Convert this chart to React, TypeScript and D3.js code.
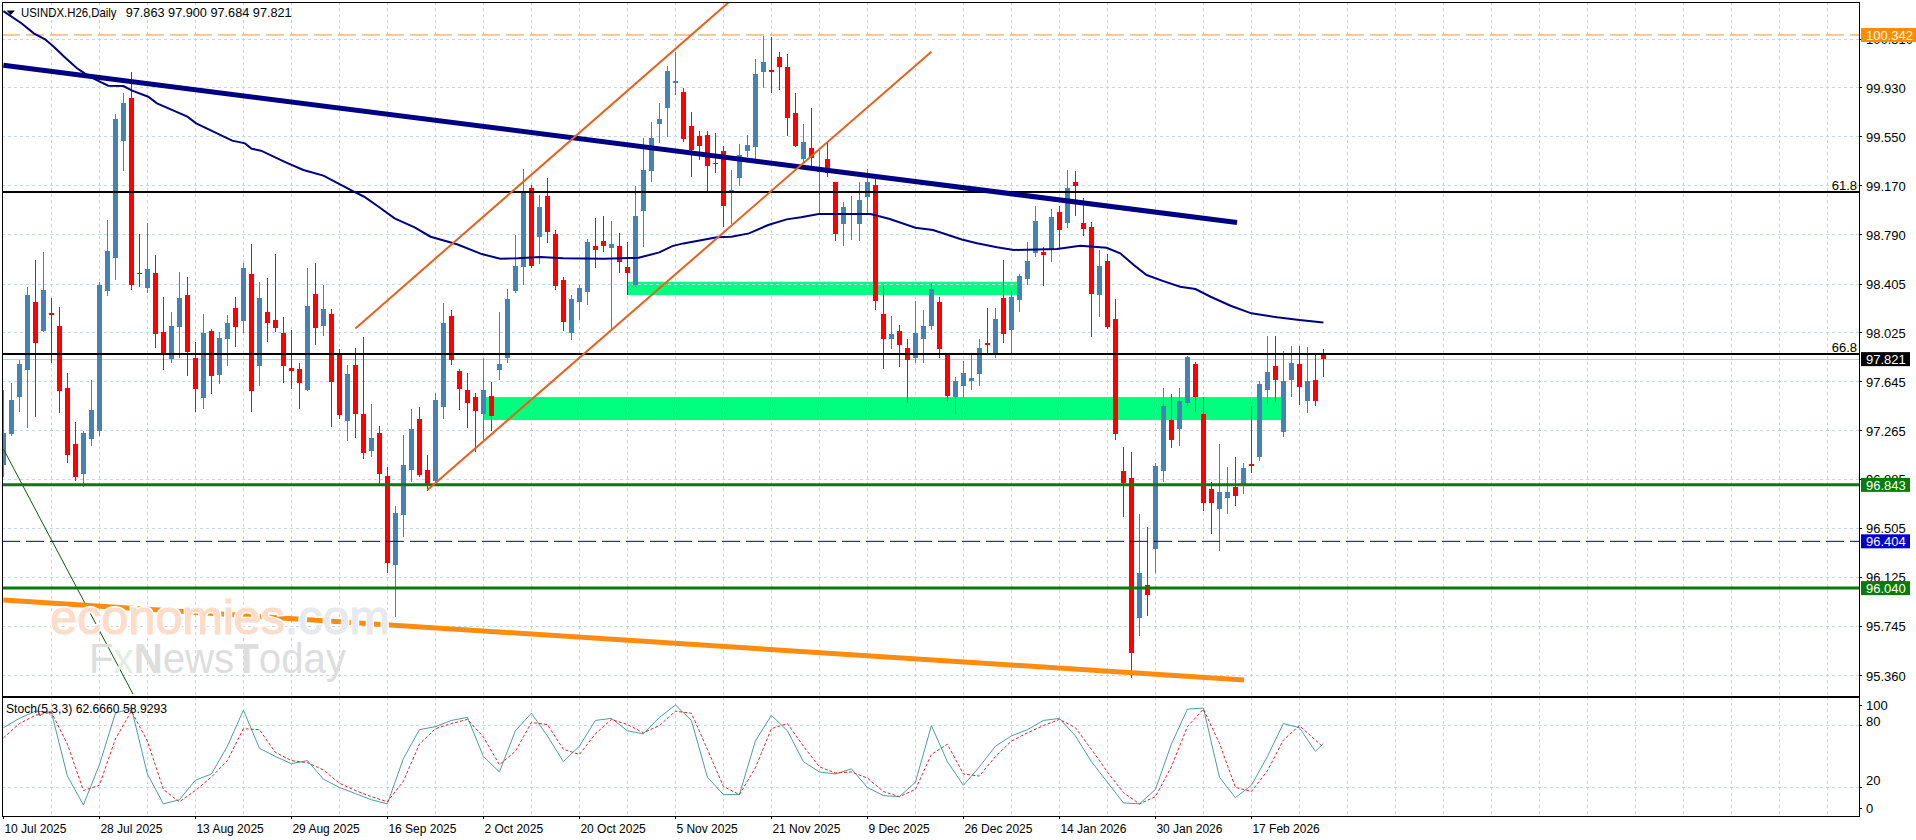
import * as React from "react";
import * as d3 from "d3";

const FONT = "'Liberation Sans', Arial, sans-serif";

const opens = [
  96.997,97.238,97.528,97.736,98.267,98.040,98.177,98.078,97.596,97.161,
  96.927,97.202,97.264,98.353,98.610,99.517,99.852,98.493,98.372,98.488,
  98.034,97.824,98.073,98.320,97.827,97.521,98.040,97.697,97.977,98.216,
  98.120,98.483,97.770,98.185,98.125,98.022,97.749,97.742,97.581,98.327,
  98.078,98.172,97.861,97.342,97.775,97.394,97.109,97.249,96.912,96.219,
  96.608,96.958,97.355,96.958,96.873,97.451,98.156,97.731,97.581,97.528,
  97.392,97.534,97.736,97.832,98.353,98.540,99.149,98.768,99.089,98.794,
  98.436,98.026,98.267,98.345,98.701,98.740,98.683,98.701,98.535,98.397,
  98.975,99.284,99.650,99.776,99.979,99.896,99.634,99.556,99.564,99.349,
  99.437,99.128,99.232,99.442,99.473,100.056,100.067,100.171,100.093,99.733,
  99.377,99.461,99.276,99.377,99.196,98.872,98.950,98.872,99.084,99.175,
  98.172,97.977,98.040,97.905,97.832,97.977,98.078,98.265,97.858,97.528,
  97.612,97.653,97.705,97.944,97.866,98.294,98.047,98.281,98.446,98.648,
  98.652,98.670,98.965,98.882,99.198,98.877,98.846,98.322,98.584,98.130,
  96.951,96.896,95.805,96.064,96.344,96.953,97.347,97.277,97.477,97.783,
  97.394,96.811,96.657,96.743,96.829,96.842,97.003,97.062,97.581,97.767,
  97.254,97.658,97.783,97.495,97.658,97.863,
];
const highs = [
  97.581,97.633,97.814,98.384,98.592,98.652,98.294,98.229,97.715,97.329,
  97.264,97.658,98.421,98.903,99.725,99.893,100.056,98.794,98.877,98.631,
  98.302,98.185,98.501,98.462,97.956,98.169,98.053,98.034,98.164,98.302,
  98.566,98.714,98.423,98.449,98.636,98.146,98.047,97.793,98.532,98.571,
  98.397,98.208,97.897,97.775,97.905,97.991,97.472,97.301,96.984,96.678,
  97.231,97.430,97.451,97.075,97.555,98.260,98.203,97.742,97.710,97.555,
  97.827,97.645,98.190,98.364,98.786,99.297,99.175,99.097,99.227,98.825,
  98.457,98.320,98.397,98.755,98.916,98.934,98.897,98.799,98.729,99.167,
  99.538,99.663,99.811,100.101,100.212,99.927,99.741,99.595,99.597,99.577,
  99.478,99.292,99.494,99.564,100.153,100.334,100.324,100.212,100.192,99.888,
  99.650,99.772,99.463,99.499,99.201,99.041,99.092,99.196,99.300,99.258,
  98.390,98.156,98.086,97.977,98.273,98.203,98.415,98.302,97.865,97.679,
  97.806,97.861,97.975,98.221,98.221,98.592,98.358,98.480,98.734,99.012,
  98.693,98.986,99.012,99.292,99.284,99.072,98.885,98.670,98.636,98.286,
  97.135,97.101,96.616,96.517,97.010,97.594,97.550,97.594,97.845,97.801,
  97.524,96.863,97.161,96.979,97.057,97.010,97.456,97.651,98.001,98.001,
  97.884,97.923,97.923,97.915,97.861,97.900,
];
const lows = [
  96.906,97.223,97.412,97.283,97.373,98.034,97.788,97.399,97.015,96.875,
  96.824,97.147,97.225,98.314,98.436,99.284,98.358,98.382,98.337,97.905,
  97.736,97.788,97.827,97.689,97.412,97.430,97.550,97.627,97.767,97.917,
  98.026,97.412,97.612,97.956,98.029,97.637,97.588,97.433,97.575,97.931,
  98.001,97.295,97.353,97.184,97.210,97.044,97.062,96.849,96.157,95.817,
  96.435,96.867,96.906,96.797,96.867,97.353,97.775,97.425,97.287,97.101,
  97.192,97.262,97.658,97.793,98.333,98.397,98.530,98.561,98.722,98.358,
  98.040,97.969,98.125,98.242,98.532,98.654,98.047,98.488,98.320,98.384,
  98.695,99.201,99.504,99.551,99.875,99.512,99.240,99.370,99.123,99.271,
  98.851,98.872,99.167,99.393,99.375,99.930,99.893,99.914,99.556,99.468,
  99.354,99.323,98.950,99.240,98.742,98.703,98.747,98.742,98.950,98.203,
  97.744,97.900,97.762,97.477,97.793,97.793,98.047,97.827,97.497,97.386,
  97.516,97.581,97.614,97.853,97.832,97.949,97.861,98.190,98.397,98.617,
  98.392,98.574,98.683,98.843,98.934,98.778,97.995,98.151,98.055,97.192,
  96.595,95.343,95.670,95.825,96.155,96.867,97.132,97.147,97.459,97.410,
  96.642,96.461,96.331,96.616,96.681,96.772,96.937,97.028,97.472,97.485,
  97.215,97.526,97.464,97.402,97.456,97.684,
];
const closes = [
  97.244,97.503,97.783,98.320,97.949,98.358,98.172,97.575,97.075,96.906,
  97.244,97.425,98.397,98.662,99.688,99.815,98.397,98.487,98.519,98.016,
  97.866,98.078,98.294,97.878,97.588,98.026,97.689,97.983,98.099,98.073,
  98.527,97.575,98.294,98.104,98.061,97.770,97.731,97.637,98.234,98.065,
  98.208,97.645,97.386,97.705,97.394,97.093,97.210,96.927,96.237,96.622,
  96.997,97.277,96.919,96.849,97.503,98.099,97.814,97.588,97.482,97.420,
  97.581,97.378,97.783,98.288,98.545,99.123,98.547,99.006,98.812,98.390,
  98.112,98.288,98.372,98.729,98.670,98.701,98.714,98.579,98.493,98.934,
  99.292,99.538,99.688,100.062,99.984,99.533,99.447,99.478,99.325,99.342,
  99.014,99.136,99.408,99.484,100.038,100.132,100.062,100.095,99.699,99.478,
  99.507,99.385,99.292,99.266,98.794,99.004,98.957,99.059,99.201,98.275,
  97.977,98.016,97.931,97.814,98.026,98.078,98.366,97.900,97.534,97.651,
  97.710,97.672,97.905,97.933,98.133,98.016,98.304,98.467,98.584,98.895,
  98.631,98.924,98.825,99.149,99.170,98.833,98.330,98.545,98.068,97.238,
  96.855,95.533,96.155,95.986,96.989,97.456,97.192,97.495,97.835,97.528,
  96.704,96.704,96.785,96.785,96.758,96.972,96.997,97.627,97.718,97.658,
  97.651,97.791,97.604,97.651,97.495,97.821,
];

// moving average, read at the bends of the line
const maBars = [0,2.25,3.8,5.2,6.3,7.6,9.2,10.3,11.6,13.1,15,16.1,18.1,19.2,23,24.1,28.6,30.2,31,32.2,35.3,37.5,40,43.8,45.1,46.9,48.9,51.4,53.4,56.7,59.8,62.1,64.3,67.1,70,75.1,79.4,82,83.6,85,89.2,91,93.2,95.6,97.9,99.7,101.9,108.4,110.8,114,116.2,119.8,121.7,124.2,126.3,131.7,134.6,137.9,139.6,141.3,142.9,145,147.1,149,150.9,153.4,156,159.2,162,165];
const maValues = [100.528,100.433,100.355,100.308,100.251,100.173,100.083,100.038,99.992,99.948,99.945,99.909,99.862,99.810,99.707,99.655,99.520,99.499,99.458,99.442,99.351,99.292,99.248,99.123,99.084,99.006,98.916,98.846,98.773,98.714,98.638,98.602,98.605,98.615,98.605,98.602,98.610,98.651,98.700,98.721,98.768,98.773,98.799,98.864,98.908,98.924,98.950,98.950,98.911,98.843,98.825,98.752,98.722,98.691,98.670,98.677,98.703,98.687,98.644,98.553,98.475,98.428,98.384,98.366,98.306,98.236,98.177,98.146,98.125,98.105];

const stochBars = d3.range(0, 166, 2).concat(165);
const stochK = [78,87,94,93,31,3,42,92,97,33,4,8,27,33,60,95,58,50,43,46,28,20,14,8,4,48,76,79,85,88,50,35,75,92,70,45,60,85,87,75,72,88,100,85,30,13,13,65,90,75,45,35,33,38,20,12,11,25,80,45,22,40,60,70,76,85,87,70,45,25,5,4,18,62,96,97,30,10,22,50,82,78,55,62.666];
const stochD = [68,82,90,93,62,17,22,67,94,65,18,6,17,30,46,77,76,54,46,44,37,24,17,11,6,26,62,77,82,86,69,42,55,83,81,57,52,72,86,81,73,80,94,92,57,21,13,39,77,82,60,40,34,35,29,16,11,18,52,62,33,31,50,65,73,80,86,78,57,35,15,4,11,40,79,96,63,20,16,36,66,80,66,58.929];

const priceTicks = [100.31,99.93,99.55,99.17,98.79,98.405,98.025,97.645,97.265,96.885,96.505,96.125,95.745,95.36];
const dateLabels = ["10 Jul 2025","28 Jul 2025","13 Aug 2025","29 Aug 2025","16 Sep 2025","2 Oct 2025","20 Oct 2025","5 Nov 2025","21 Nov 2025","9 Dec 2025","26 Dec 2025","14 Jan 2026","30 Jan 2026","17 Feb 2026"];
const stochTicks = [100,80,20,0];

const navyTrend = [[0,100.107],[154.2,98.883]];
const channelLower = [[53,96.803],[116,100.212]];
const channelUpper = [[44,98.06],[90.6,100.593]];
const orangeTrend = [[0,95.947],[155.1,95.325]];
const thinGreen = [[0,97.122],[16.2,95.216]];
const zones = [[60,160,97.526,97.347],[78,127,98.423,98.32]];

const fibLevels = [[99.12,"61.8"],[97.861,"66.8"]];
const boxes = [
  [100.342,"100.342","#FF8C00",55],
  [97.821,"97.821","#000000",49],
  [96.843,"96.843","#0A7A0A",49],
  [96.404,"96.404","#0000CD",49],
  [96.04,"96.040","#0A7A0A",49],
];

const W = 1916, H = 840;
const LEFT = 2, RIGHT = 1859, TOP = 2, MAIN_BOTTOM = 696, SUB_TOP = 697, SUB_BOTTOM = 816;
const GRID = "#C2D8E2";

const x = d3.scaleLinear().domain([0, 165]).range([3.4, 1323.4]);
const y = d3.scaleLinear().domain([95.201, 100.614]).range([696, 0]);
const yStoch = d3.scaleLinear().domain([0, 100]).range([808, 705]);

const trend = d3.line<number[]>().x(d => x(d[0])).y(d => y(d[1]));
const maLine = d3.line<number>().x((_, i) => x(maBars[i])).y(d => y(d));
const stochLine = d3.line<number>().x((_, i) => x(stochBars[i])).y(d => yStoch(d));

const App = () => {
  const gridBars = d3.range(6, 232, 6);

  return (
    <svg width={W} height={H} style={{ position: "absolute", left: 0, top: 0, background: "#fff" }} fontFamily={FONT} fontSize={13}>
      <defs>
        <clipPath id="main"><rect x={LEFT} y={TOP} width={RIGHT - LEFT} height={MAIN_BOTTOM - TOP} /></clipPath>
        <clipPath id="sub"><rect x={LEFT} y={SUB_TOP} width={RIGHT - LEFT} height={SUB_BOTTOM - SUB_TOP} /></clipPath>
      </defs>

      <g clipPath="url(#main)">
        {zones.map((z, i) => (
          <rect key={i} x={x(z[0])} y={y(z[2])} width={x(z[1]) - x(z[0])} height={y(z[3]) - y(z[2])} fill="#00FF7F" />
        ))}
        <g stroke={GRID} strokeDasharray="3 3" shapeRendering="crispEdges">
          {priceTicks.map(t => <line key={t} x1={LEFT} x2={RIGHT} y1={y(t)} y2={y(t)} />)}
          {gridBars.map(b => <line key={b} x1={x(b)} x2={x(b)} y1={TOP} y2={MAIN_BOTTOM} />)}
        </g>
        <line x1={LEFT} x2={RIGHT} y1={y(97.821)} y2={y(97.821)} stroke="#B4D4E0" shapeRendering="crispEdges" />

        <g shapeRendering="crispEdges">
          {opens.map((o, i) => {
            const c = closes[i];
            const color = c >= o ? "#4682B4" : "#FF0000";
            const cx = Math.round(x(i));
            const top = y(Math.max(o, c));
            const h = Math.max(1.5, y(Math.min(o, c)) - top);
            return (
              <g key={i}>
                <line x1={cx + 0.5} x2={cx + 0.5} y1={y(highs[i])} y2={y(lows[i])} stroke={color} />
                <rect x={cx - 2} y={top} width={5} height={h} fill={color} />
              </g>
            );
          })}
        </g>

        <path d={trend(thinGreen) || ""} fill="none" stroke="#0B5A0B" />
        <path d={trend(orangeTrend) || ""} fill="none" stroke="#FF8C10" strokeWidth={5} />

        <text x={50} y={634} fontSize={48} textLength={340} lengthAdjust="spacingAndGlyphs" stroke="#fff" strokeWidth={4}>economies.com</text>
        <text x={50} y={634} fontSize={48} textLength={340} lengthAdjust="spacingAndGlyphs" strokeWidth={1.2}>
          <tspan fill="#FFDCC8" stroke="#FFDCC8">economies</tspan><tspan fill="#E6E9EE" stroke="#E6E9EE">.com</tspan>
        </text>
        <text x={89} y={673} fontSize={43} textLength={257} lengthAdjust="spacingAndGlyphs" fill="#DEDEDE">
          F<tspan fill="#E4EDE4">x</tspan><tspan fontWeight="bold">N</tspan>ews<tspan fontWeight="bold">T</tspan>oday
        </text>

        <line x1={LEFT} x2={RIGHT} y1={y(100.342)} y2={y(100.342)} stroke="#E8912E" strokeDasharray="18 6" />
        {fibLevels.map(l => (
          <line key={l[1]} x1={LEFT} x2={RIGHT} y1={y(l[0] as number)} y2={y(l[0] as number)} stroke="#000" strokeWidth={2} />
        ))}
        <line x1={LEFT} x2={RIGHT} y1={y(96.843)} y2={y(96.843)} stroke="#0A7A0A" strokeWidth={3} />
        <line x1={LEFT} x2={RIGHT} y1={y(96.04)} y2={y(96.04)} stroke="#0A7A0A" strokeWidth={3} />
        <line x1={LEFT} x2={RIGHT} y1={y(96.404)} y2={y(96.404)} stroke="#00008B" strokeDasharray="18 6" />

        <path d={maLine(maValues) || ""} fill="none" stroke="#000080" strokeWidth={2} />
        <path d={trend(navyTrend) || ""} fill="none" stroke="#000080" strokeWidth={5} />
        <path d={trend(channelLower) || ""} fill="none" stroke="#E8601C" strokeWidth={2} />
        <path d={trend(channelUpper) || ""} fill="none" stroke="#E8601C" strokeWidth={2} />

        {fibLevels.map(l => (
          <text key={l[1]} x={RIGHT - 2} y={y(l[0] as number) - 2} textAnchor="end" fill="#000">{l[1]}</text>
        ))}
      </g>

      <g clipPath="url(#sub)">
        <g stroke={GRID} strokeDasharray="3 3" shapeRendering="crispEdges">
          <line x1={LEFT} x2={RIGHT} y1={yStoch(80)} y2={yStoch(80)} />
          <line x1={LEFT} x2={RIGHT} y1={yStoch(20)} y2={yStoch(20)} />
          {gridBars.map(b => <line key={b} x1={x(b)} x2={x(b)} y1={SUB_TOP} y2={SUB_BOTTOM} />)}
        </g>
        <path d={stochLine(stochK) || ""} fill="none" stroke="#4F9C9C" />
        <path d={stochLine(stochD) || ""} fill="none" stroke="#D8262C" strokeDasharray="3 2" />
      </g>

      <g fill="none" stroke="#000" shapeRendering="crispEdges">
        <rect x={LEFT} y={TOP} width={RIGHT - LEFT} height={MAIN_BOTTOM - TOP} />
        <rect x={LEFT} y={SUB_TOP} width={RIGHT - LEFT} height={SUB_BOTTOM - SUB_TOP} />
      </g>

      <path d="M6.5 10.5 H15 L10.7 15 Z" fill="#000" />
      <text x={21} y={17} fill="#000" textLength={95.5} lengthAdjust="spacingAndGlyphs">USINDX.H26,Daily</text>
      <text x={125.7} y={17} fill="#000" textLength={166} lengthAdjust="spacingAndGlyphs">97.863 97.900 97.684 97.821</text>
      <text x={6} y={713} fill="#000" textLength={161} lengthAdjust="spacingAndGlyphs">Stoch(5,3,3) 62.6660 58.9293</text>

      {priceTicks.map(t => (
        <g key={t}>
          <line x1={RIGHT} x2={RIGHT + 3} y1={y(t)} y2={y(t)} stroke="#000" shapeRendering="crispEdges" />
          <text x={1866} y={y(t) + 5} fill="#000">{d3.format(".3f")(t)}</text>
        </g>
      ))}
      {boxes.map(b => (
        <g key={b[1] as string}>
          <rect x={1861} y={y(b[0] as number) - 7} width={b[3] as number} height={14} fill={b[2] as string} />
          <text x={1866} y={y(b[0] as number) + 5} fill="#fff">{b[1]}</text>
        </g>
      ))}

      {stochTicks.map(t => (
        <g key={t}>
          <line x1={RIGHT} x2={RIGHT + 3} y1={yStoch(t)} y2={yStoch(t)} stroke="#000" shapeRendering="crispEdges" />
          <text x={1866} y={yStoch(t) + (t === 80 ? 0 : t === 20 ? -2 : 5)} fill="#000">{t}</text>
        </g>
      ))}

      {dateLabels.map((d, i) => (
        <g key={d}>
          <line x1={x(i * 12)} x2={x(i * 12)} y1={SUB_BOTTOM} y2={SUB_BOTTOM + 3} stroke="#000" shapeRendering="crispEdges" />
          <text x={x(i * 12) + 1} y={833} fontSize={12} fill="#000">{d}</text>
        </g>
      ))}
    </svg>
  );
};

export default App;
